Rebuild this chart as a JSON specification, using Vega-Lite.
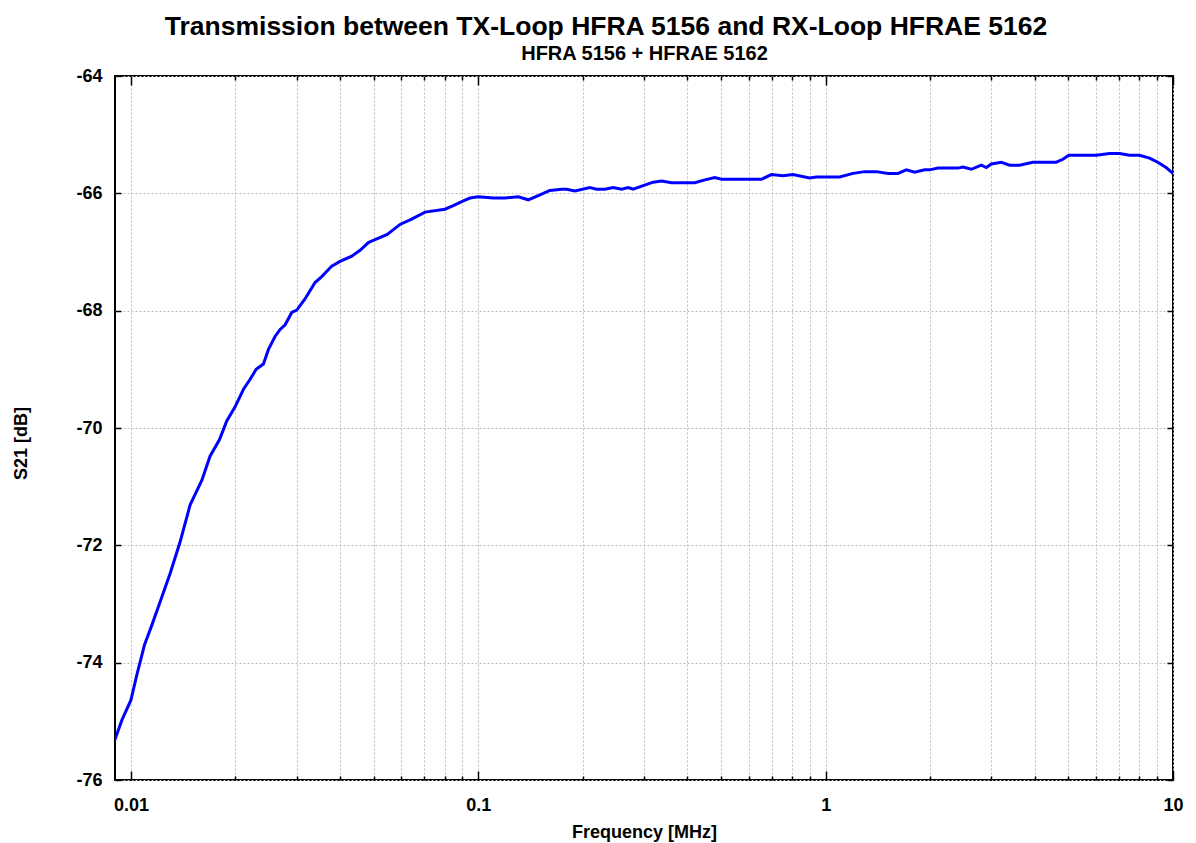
{
  "$schema": "https://vega.github.io/schema/vega-lite/v6.json",
  "width": 1058,
  "height": 704,
  "autosize": {"type": "none"},
  "padding": {"left": 115, "top": 76, "right": 23, "bottom": 63},
  "background": "white",
  "title": {
    "text": "Transmission between TX-Loop HFRA 5156 and RX-Loop HFRAE 5162",
    "anchor": "middle",
    "frame": "group",
    "dx": -38,
    "font": "Liberation Sans",
    "fontSize": 26.5,
    "fontWeight": "bold",
    "color": "black",
    "offset": 3
  },
  "config": {
    "view": {"stroke": "black", "strokeWidth": 2},
    "axis": {
      "labelFont": "Liberation Sans",
      "labelFontSize": 18,
      "labelFontWeight": "bold",
      "labelColor": "black",
      "titleFont": "Liberation Sans",
      "titleFontSize": 18,
      "titleFontWeight": "bold",
      "titleColor": "black",
      "domain": false,
      "tickColor": "black",
      "tickWidth": 1.5,
      "gridColor": "#bdbdbd",
      "gridDash": [2, 2],
      "gridWidth": 1
    }
  },
  "data": {
    "values": [
      {"f": 0.00895, "s21": -75.35},
      {"f": 0.00942, "s21": -74.98},
      {"f": 0.0100, "s21": -74.64},
      {"f": 0.0104, "s21": -74.21},
      {"f": 0.01094, "s21": -73.70},
      {"f": 0.01149, "s21": -73.36},
      {"f": 0.01214, "s21": -72.96},
      {"f": 0.01297, "s21": -72.48},
      {"f": 0.01386, "s21": -71.94},
      {"f": 0.01481, "s21": -71.31},
      {"f": 0.01601, "s21": -70.89},
      {"f": 0.0169, "s21": -70.48},
      {"f": 0.01798, "s21": -70.20},
      {"f": 0.01888, "s21": -69.88},
      {"f": 0.01995, "s21": -69.64},
      {"f": 0.02109, "s21": -69.34},
      {"f": 0.02204, "s21": -69.17},
      {"f": 0.02294, "s21": -69.00},
      {"f": 0.02407, "s21": -68.91},
      {"f": 0.02489, "s21": -68.66},
      {"f": 0.0260, "s21": -68.44},
      {"f": 0.02689, "s21": -68.32},
      {"f": 0.0278, "s21": -68.24},
      {"f": 0.02904, "s21": -68.03},
      {"f": 0.03003, "s21": -67.99},
      {"f": 0.03171, "s21": -67.80},
      {"f": 0.03389, "s21": -67.52},
      {"f": 0.03544, "s21": -67.42},
      {"f": 0.03786, "s21": -67.24},
      {"f": 0.0400, "s21": -67.16},
      {"f": 0.04324, "s21": -67.07},
      {"f": 0.04568, "s21": -66.97},
      {"f": 0.04826, "s21": -66.84},
      {"f": 0.04988, "s21": -66.80},
      {"f": 0.0547, "s21": -66.70},
      {"f": 0.05954, "s21": -66.53},
      {"f": 0.06431, "s21": -66.44},
      {"f": 0.07028, "s21": -66.32},
      {"f": 0.08017, "s21": -66.27},
      {"f": 0.08474, "s21": -66.21},
      {"f": 0.09059, "s21": -66.13},
      {"f": 0.09466, "s21": -66.08},
      {"f": 0.1000, "s21": -66.06},
      {"f": 0.1105, "s21": -66.08},
      {"f": 0.1194, "s21": -66.08},
      {"f": 0.1304, "s21": -66.06},
      {"f": 0.1393, "s21": -66.11},
      {"f": 0.1488, "s21": -66.04},
      {"f": 0.1608, "s21": -65.95},
      {"f": 0.1738, "s21": -65.93},
      {"f": 0.1796, "s21": -65.93},
      {"f": 0.1898, "s21": -65.96},
      {"f": 0.2096, "s21": -65.90},
      {"f": 0.2191, "s21": -65.93},
      {"f": 0.2315, "s21": -65.93},
      {"f": 0.2445, "s21": -65.90},
      {"f": 0.2585, "s21": -65.93},
      {"f": 0.2701, "s21": -65.90},
      {"f": 0.2792, "s21": -65.93},
      {"f": 0.2984, "s21": -65.87},
      {"f": 0.3188, "s21": -65.81},
      {"f": 0.3371, "s21": -65.79},
      {"f": 0.3601, "s21": -65.82},
      {"f": 0.389, "s21": -65.82},
      {"f": 0.4202, "s21": -65.82},
      {"f": 0.449, "s21": -65.77},
      {"f": 0.4797, "s21": -65.73},
      {"f": 0.5016, "s21": -65.76},
      {"f": 0.566, "s21": -65.76},
      {"f": 0.6535, "s21": -65.76},
      {"f": 0.698, "s21": -65.68},
      {"f": 0.754, "s21": -65.70},
      {"f": 0.805, "s21": -65.68},
      {"f": 0.899, "s21": -65.74},
      {"f": 0.9409, "s21": -65.72},
      {"f": 1.098, "s21": -65.72},
      {"f": 1.199, "s21": -65.66},
      {"f": 1.296, "s21": -65.63},
      {"f": 1.40, "s21": -65.63},
      {"f": 1.512, "s21": -65.66},
      {"f": 1.615, "s21": -65.66},
      {"f": 1.708, "s21": -65.60},
      {"f": 1.805, "s21": -65.64},
      {"f": 1.928, "s21": -65.60},
      {"f": 1.993, "s21": -65.60},
      {"f": 2.106, "s21": -65.57},
      {"f": 2.404, "s21": -65.57},
      {"f": 2.485, "s21": -65.55},
      {"f": 2.628, "s21": -65.59},
      {"f": 2.806, "s21": -65.52},
      {"f": 2.901, "s21": -65.56},
      {"f": 2.999, "s21": -65.50},
      {"f": 3.205, "s21": -65.47},
      {"f": 3.385, "s21": -65.52},
      {"f": 3.617, "s21": -65.52},
      {"f": 3.951, "s21": -65.47},
      {"f": 4.317, "s21": -65.47},
      {"f": 4.613, "s21": -65.47},
      {"f": 4.82, "s21": -65.42},
      {"f": 5.01, "s21": -65.35},
      {"f": 5.503, "s21": -65.35},
      {"f": 6.01, "s21": -65.35},
      {"f": 6.568, "s21": -65.32},
      {"f": 7.02, "s21": -65.32},
      {"f": 7.5, "s21": -65.35},
      {"f": 8.01, "s21": -65.35},
      {"f": 8.56, "s21": -65.40},
      {"f": 9.04, "s21": -65.47},
      {"f": 9.55, "s21": -65.56},
      {"f": 10.0, "s21": -65.66}
    ]
  },
  "layer": [
    {
      "mark": {"type": "line", "color": "#0000ff", "strokeWidth": 3, "clip": true},
      "encoding": {
        "x": {
          "field": "f", "type": "quantitative",
          "scale": {"type": "log", "domain": [0.009, 10], "nice": false},
          "axis": {
            "orient": "bottom",
            "title": "Frequency [MHz]",
            "values": [0.01,0.02,0.03,0.04,0.05,0.06,0.07,0.08,0.09,0.1,0.2,0.3,0.4,0.5,0.6,0.7,0.8,0.9,1,2,3,4,5,6,7,8,9,10],
            "labelExpr": "indexof([0.01,0.1,1,10], datum.value) >= 0 ? datum.label : ''",
            "format": "~g",
            "tickSize": {"condition": {"test": "indexof([0.01,0.1,1,10], datum.value) >= 0", "value": -9}, "value": -4},
            "labelPadding": 25,
            "titlePadding": 4,
            "labelFlush": false,
            "labelOverlap": false,
            "grid": true
          }
        },
        "y": {
          "field": "s21", "type": "quantitative",
          "scale": {"domain": [-76, -64], "nice": false, "zero": false},
          "axis": {
            "orient": "left",
            "title": "S21 [dB]",
            "values": [-76,-74,-72,-70,-68,-66,-64],
            "labelExpr": "toString(datum.value)",
            "tickSize": -6,
            "labelPadding": 19,
            "titlePadding": 45,
            "titleY": 367,
            "grid": true
          }
        }
      }
    },
    {
      "mark": {"type": "line", "opacity": 0},
      "encoding": {
        "x": {
          "field": "f", "type": "quantitative",
          "scale": {"type": "log", "domain": [0.009, 10], "nice": false},
          "axis": {
            "orient": "top",
            "title": "HFRA 5156 + HFRAE 5162",
            "titleFontSize": 20,
            "values": [0.01,0.02,0.03,0.04,0.05,0.06,0.07,0.08,0.09,0.1,0.2,0.3,0.4,0.5,0.6,0.7,0.8,0.9,1,2,3,4,5,6,7,8,9,10],
            "labels": false,
            "tickSize": {"condition": {"test": "indexof([0.01,0.1,1,10], datum.value) >= 0", "value": -9}, "value": -4},
            "titlePadding": 12,
            "grid": false
          }
        },
        "y": {
          "field": "s21", "type": "quantitative",
          "scale": {"domain": [-76, -64], "nice": false, "zero": false},
          "axis": {
            "orient": "right",
            "title": null,
            "labels": false,
            "values": [-76,-74,-72,-70,-68,-66,-64],
            "tickSize": -6,
            "grid": false
          }
        }
      }
    }
  ],
  "resolve": {"axis": {"x": "independent", "y": "independent"}}
}
